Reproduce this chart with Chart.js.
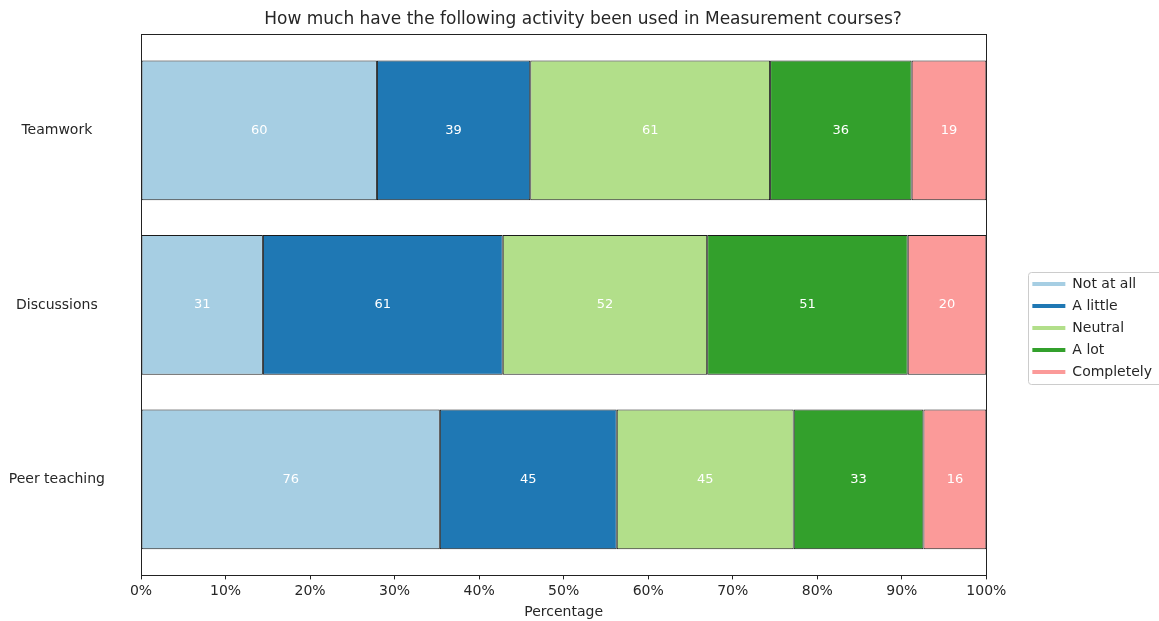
<!DOCTYPE html>
<html>
<head>
<meta charset="utf-8">
<script src="https://cdn.jsdelivr.net/npm/chart.js@4.4.0/dist/chart.umd.min.js"></script>
<style>
  html, body { margin: 0; padding: 0; background: #fff; }
  #wrap { width: 1159px; height: 621px; }
</style>
</head>
<body>
<div id="wrap"><canvas id="chart"></canvas></div>
<script>
// Survey answers per activity (counts shown inside the bars)
const activities = ['Teamwork', 'Discussions', 'Peer teaching'];
const answers = ['Not at all', 'A little', 'Neutral', 'A lot', 'Completely'];
const notAtAll = [60, 31, 76];
const aLittle = [39, 61, 45];
const neutral = [61, 52, 45];
const aLot = [36, 51, 33];
const completely = [19, 20, 16];
const xTicks = [0, 10, 20, 30, 40, 50, 60, 70, 80, 90, 100];

const countsByAnswer = [notAtAll, aLittle, neutral, aLot, completely];
const palette = ['#a6cee3', '#1f78b4', '#b2df8a', '#33a02c', '#fb9a99'];
const FONT = "'DejaVu Sans', sans-serif";
const TEXT = '#262626';
const AXIS = '#222';

// row totals, used to turn counts into percentages
const totals = activities.map((_, i) => countsByAnswer.reduce((s, arr) => s + arr[i], 0));

const datasets = answers.map((name, k) => ({
    label: name,
    counts: countsByAnswer[k],
    data: countsByAnswer[k].map((c, i) => ({ x: c / totals[i] * 100, y: i })),
    backgroundColor: palette[k],
    borderColor: '#1a1a1a',
    borderWidth: 1,
    borderSkipped: false,
    barPercentage: 0.8,
    categoryPercentage: 1,
}));

// white count labels in the middle of each segment, axes frame, legend frame
const barLabels = {
    id: 'barLabels',
    afterLayout(chart) {
        // push the legend away from the plot, like matplotlib's bbox_to_anchor
        const lg = chart.legend;
        if (!lg) return;
        lg.left += 38; lg.right += 38;
    },
    afterDatasetsDraw(chart) {
        const { ctx, chartArea } = chart;
        ctx.save();
        ctx.font = `13px ${FONT}`;
        ctx.fillStyle = '#fff';
        ctx.textAlign = 'center';
        ctx.textBaseline = 'middle';
        chart.data.datasets.forEach((ds, di) => {
            chart.getDatasetMeta(di).data.forEach((el, i) => {
                const p = el.getCenterPoint();
                ctx.fillText(String(ds.counts[i]), p.x, p.y);
            });
        });
        ctx.strokeStyle = AXIS;
        ctx.lineWidth = 1;
        ctx.strokeRect(Math.round(chartArea.left) + 0.5, Math.round(chartArea.top) + 0.5,
            Math.round(chartArea.width), Math.round(chartArea.height));
        ctx.restore();
    },
    afterDraw(chart) {
        const lg = chart.legend;
        if (!lg || !lg.legendHitBoxes || !lg.legendHitBoxes.length) return;
        const boxes = lg.legendHitBoxes;
        const top = Math.min(...boxes.map(b => b.top)) - 5;
        const bottom = Math.max(...boxes.map(b => b.top + b.height)) + 5;
        const left = Math.min(...boxes.map(b => b.left)) - 4;
        const { ctx } = chart;
        ctx.save();
        ctx.strokeStyle = '#cccccc';
        ctx.lineWidth = 1;
        ctx.beginPath();
        ctx.roundRect(Math.round(left) + 0.5, Math.round(top) + 0.5, 200, Math.round(bottom - top), 3);
        ctx.stroke();
        ctx.restore();
    }
};

new Chart(document.getElementById('chart'), {
    type: 'bar',
    data: { datasets },
    options: {
        indexAxis: 'y',
        responsive: true,
        maintainAspectRatio: false,
        animation: false,
        layout: { padding: { left: 7, right: 0, top: 0, bottom: 0 } },
        plugins: {
            title: {
                display: true,
                text: 'How much have the following activity been used in Measurement courses?',
                color: TEXT,
                font: { family: FONT, size: 17, weight: 'normal' },
                padding: { top: 9, bottom: 5 },
            },
            legend: {
                position: 'right',
                align: 'center',
                // empty title only used to push the entries down a little
                title: { display: true, text: '', font: { size: 1 }, padding: { top: 0, bottom: 34 } },
                labels: {
                    color: TEXT,
                    font: { family: FONT, size: 14 },
                    usePointStyle: true,
                    pointStyleWidth: 33,
                    padding: 8,
                    generateLabels: (chart) => chart.data.datasets.map((ds, i) => ({
                        text: ds.label,
                        fontColor: TEXT,
                        fillStyle: ds.backgroundColor,
                        strokeStyle: ds.backgroundColor,
                        lineWidth: 4,
                        pointStyle: 'line',
                        datasetIndex: i,
                        hidden: false,
                    })),
                },
            },
            tooltip: { enabled: false },
        },
        scales: {
            x: {
                type: 'linear',
                stacked: true,
                min: 0,
                max: 100,
                afterBuildTicks: (s) => { s.ticks = xTicks.map(v => ({ value: v })); },
                afterFit: (s) => { s.paddingRight = (s.chart.legend ? s.chart.legend.width : 0) + 35; },
                grid: { display: true, drawOnChartArea: false, drawTicks: true, tickLength: 4, color: AXIS },
                border: { display: true, color: AXIS },
                ticks: {
                    color: TEXT,
                    font: { family: FONT, size: 14 },
                    padding: 4,
                    maxRotation: 0,
                    callback: (v) => v + '%',
                },
                title: {
                    display: true,
                    text: 'Percentage',
                    color: TEXT,
                    font: { family: FONT, size: 14 },
                    padding: { top: 0, bottom: 0 },
                },
            },
            y: {
                type: 'linear',
                stacked: true,
                reverse: true,
                offset: false,
                min: -0.55,
                max: activities.length - 0.45,
                afterBuildTicks: (s) => { s.ticks = activities.map((_, i) => ({ value: i })); },
                afterFit: (s) => { s.width = 134; s.paddingTop = 0; s.paddingBottom = 0; },
                grid: { display: true, offset: false, drawOnChartArea: false, drawTicks: false, color: AXIS },
                border: { display: true, color: AXIS },
                ticks: {
                    color: TEXT,
                    font: { family: FONT, size: 14 },
                    crossAlign: 'center',
                    padding: 36,
                    callback: (v) => activities[v],
                },
            },
        },
    },
    plugins: [barLabels],
});
</script>
</body>
</html>
